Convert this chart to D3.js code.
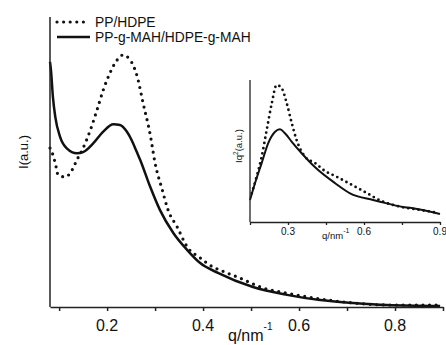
<!DOCTYPE html>
<html>

<head>
    <meta charset="utf-8">
    <script src="https://d3js.org/d3.v7.min.js"></script>
    <style>
        body { margin: 0; background: #fff; }
        text { font-family: "Liberation Sans", Arial, sans-serif; fill: #111; }
    </style>
</head>

<body>
    <script type="text/javascript">
        // main plot: q (nm^-1) and intensity (a.u.)
        let qBlend = [0.081, 0.085, 0.092, 0.098, 0.113, 0.127, 0.137, 0.148, 0.165, 0.179, 0.192, 0.206,
            0.221, 0.233, 0.248, 0.263, 0.275, 0.29, 0.3, 0.315, 0.327, 0.346, 0.367, 0.394, 0.421, 0.435,
            0.477, 0.525, 0.575, 0.644, 0.713, 0.783, 0.894];
        let iBlend = [55.0, 53.6, 49.8, 45.7, 45.0, 47.4, 50.9, 54.3, 61.2, 68.2, 75.1, 81.0,
            85.5, 87.2, 85.5, 79.6, 70.6, 59.5, 49.8, 40.5, 33.6, 27.7, 20.8, 17.0, 13.8, 12.8,
            10.0, 6.6, 4.8, 2.8, 1.4, 0.7, 0.7];

        let qGraft = [0.081, 0.083, 0.087, 0.092, 0.102, 0.116, 0.137, 0.151, 0.171, 0.192, 0.213, 0.227,
            0.241, 0.251, 0.262, 0.269, 0.29, 0.31, 0.338, 0.367, 0.394, 0.431, 0.504, 0.575, 0.644,
            0.713, 0.783, 0.894];
        let iGraft = [84.8, 82.0, 72.8, 65.8, 58.9, 54.9, 53.2, 53.7, 56.6, 60.7, 63.2, 63.0,
            60.7, 57.8, 53.6, 50.9, 41.5, 33.6, 25.6, 19.7, 15.2, 11.8, 6.9, 4.2, 2.4,
            1.4, 0.7, 0.35];

        // inset: Iq^2 (Lorentz corrected)
        let qBlendIn = [0.157, 0.176, 0.196, 0.216, 0.236, 0.255, 0.275, 0.295, 0.315, 0.334, 0.367, 0.407,
            0.446, 0.486, 0.545, 0.604, 0.675, 0.742, 0.821, 0.892];
        let iqBlendIn = [20.2, 31.9, 46.0, 64.8, 83.6, 96.5, 94.2, 83.6, 69.5, 57.7, 46.0, 41.5,
            35.9, 32.4, 26.8, 21.1, 14.3, 10.8, 8.5, 6.5];

        let qGraftIn = [0.15, 0.17, 0.196, 0.222, 0.249, 0.268, 0.288, 0.315, 0.354, 0.407, 0.486, 0.545,
            0.636, 0.663, 0.754, 0.782, 0.9];
        let iqGraftIn = [15.5, 27.5, 41.5, 55.6, 63.6, 65.3, 62.5, 56.5, 48.4, 38.5, 27.3, 20.2,
            15.5, 14.3, 10.6, 10.0, 5.6];

        let mainTicks = [0.1, 0.2, 0.3, 0.4, 0.5, 0.6, 0.7, 0.8, 0.9];
        let mainLabels = [0.2, 0.4, 0.6, 0.8];
        let insetTicks = [0.15, 0.3, 0.45, 0.6, 0.75, 0.9];
        let insetLabels = [0.3, 0.6, 0.9];
        let seriesNames = ["PP/HDPE", "PP-g-MAH/HDPE-g-MAH"];

        let width = 446, height = 345;

        let svg = d3.select("body")
            .append("svg")
                .attr("width", width)
                .attr("height", height);

        // ---- main plot ----
        let x = d3.scaleLinear().domain([0.081, 0.9]).range([50, 443]);
        let y = d3.scaleLinear().domain([0, 100]).range([307, 18]);

        let line = d3.line()
            .x(d => x(d[0]))
            .y(d => y(d[1]))
            .curve(d3.curveMonotoneX);

        svg.append("path")
            .attr("d", line(d3.zip(qBlend, iBlend)))
            .attr("fill", "none")
            .attr("stroke", "#111")
            .attr("stroke-width", 3.2)
            .attr("stroke-linecap", "round")
            .attr("stroke-dasharray", "0,6.6");

        svg.append("path")
            .attr("d", line(d3.zip(qGraft, iGraft)))
            .attr("fill", "none")
            .attr("stroke", "#111")
            .attr("stroke-width", 2.5);

        let xAxis = svg.append("g")
            .attr("transform", "translate(0,307)")
            .call(d3.axisBottom(x).tickValues(mainTicks).tickSize(4).tickSizeOuter(0).tickFormat(""));
        xAxis.selectAll("path, line").attr("stroke", "#222").attr("stroke-width", 1.5);

        svg.selectAll(".mainlab")
            .data(mainLabels)
            .join("text")
                .attr("class", "mainlab")
                .attr("x", d => x(d))
                .attr("y", 331)
                .attr("text-anchor", "middle")
                .attr("font-size", 16)
                .text(d => d3.format(".1f")(d));

        svg.append("line")
            .attr("x1", 50).attr("x2", 50)
            .attr("y1", 17).attr("y2", 307)
            .attr("stroke", "#222").attr("stroke-width", 1.5);

        let xTitle = svg.append("text")
            .attr("x", 228)
            .attr("y", 341)
            .attr("font-size", 16);
        xTitle.append("tspan").text("q/nm");
        xTitle.append("tspan").attr("dy", -11).attr("font-size", 10).text("-1");

        svg.append("text")
            .attr("transform", "translate(28,152) rotate(-90)")
            .attr("text-anchor", "middle")
            .attr("font-size", 13)
            .text("I(a.u.)");

        // ---- legend ----
        svg.append("line")
            .attr("x1", 57).attr("x2", 84)
            .attr("y1", 22).attr("y2", 22)
            .attr("stroke", "#111").attr("stroke-width", 3.2)
            .attr("stroke-linecap", "round")
            .attr("stroke-dasharray", "0,6.6");
        svg.append("line")
            .attr("x1", 57).attr("x2", 90)
            .attr("y1", 37).attr("y2", 37)
            .attr("stroke", "#111").attr("stroke-width", 2.5);
        svg.selectAll(".leg")
            .data(seriesNames)
            .join("text")
                .attr("class", "leg")
                .attr("x", 95)
                .attr("y", (d, i) => 27 + i * 15)
                .attr("font-size", 13.8)
                .text(d => d);

        // ---- inset ----
        let xi = d3.scaleLinear().domain([0.15, 0.9]).range([250, 440]);
        let yi = d3.scaleLinear().domain([0, 100]).range([222, 80]);

        let lineIn = d3.line()
            .x(d => xi(d[0]))
            .y(d => yi(d[1]))
            .curve(d3.curveMonotoneX);

        svg.append("path")
            .attr("d", lineIn(d3.zip(qBlendIn, iqBlendIn)))
            .attr("fill", "none")
            .attr("stroke", "#111")
            .attr("stroke-width", 2.8)
            .attr("stroke-linecap", "round")
            .attr("stroke-dasharray", "0,5.2");

        svg.append("path")
            .attr("d", lineIn(d3.zip(qGraftIn, iqGraftIn)))
            .attr("fill", "none")
            .attr("stroke", "#111")
            .attr("stroke-width", 2);

        let xAxisIn = svg.append("g")
            .attr("transform", "translate(0,222)")
            .call(d3.axisBottom(xi).tickValues(insetTicks).tickSize(3).tickSizeOuter(0).tickFormat(""));
        xAxisIn.selectAll("path, line").attr("stroke", "#222").attr("stroke-width", 1.3);

        svg.append("line")
            .attr("x1", 250).attr("x2", 250)
            .attr("y1", 80).attr("y2", 222)
            .attr("stroke", "#222").attr("stroke-width", 1.3);

        svg.selectAll(".inlab")
            .data(insetLabels)
            .join("text")
                .attr("class", "inlab")
                .attr("x", d => xi(d))
                .attr("y", 235)
                .attr("text-anchor", "middle")
                .attr("font-size", 10)
                .attr("fill", "#333")
                .text(d => d3.format(".1f")(d));

        let xTitleIn = svg.append("text")
            .attr("x", 322)
            .attr("y", 239)
            .attr("font-size", 9.5)
            .attr("fill", "#333");
        xTitleIn.append("tspan").text("q/nm");
        xTitleIn.append("tspan").attr("dy", -6).attr("font-size", 7).text("-1");

        let yTitleIn = svg.append("text")
            .attr("transform", "translate(242,146) rotate(-90)")
            .attr("text-anchor", "middle")
            .attr("font-size", 9.5)
            .attr("fill", "#333");
        yTitleIn.append("tspan").text("Iq");
        yTitleIn.append("tspan").attr("dy", -4).attr("font-size", 6.5).text("2");
        yTitleIn.append("tspan").attr("dy", 4).text("(a.u.)");
    </script>
</body>

</html>
